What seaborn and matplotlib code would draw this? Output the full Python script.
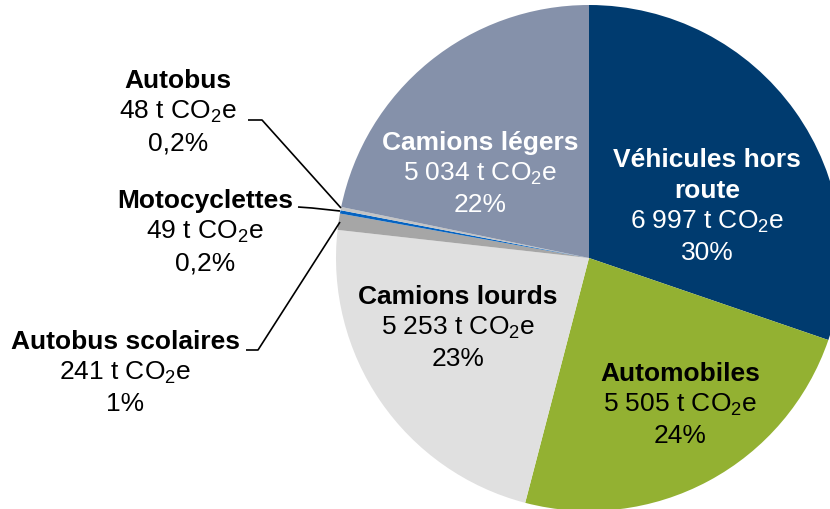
import matplotlib
matplotlib.use("Agg")
import matplotlib.pyplot as plt
import seaborn as sns

categories = ["Véhicules hors route", "Automobiles", "Camions lourds",
              "Autobus scolaires", "Motocyclettes", "Autobus", "Camions légers"]
values = [6997, 5505, 5253, 241, 49, 48, 5034]
value_labels = ["6 997", "5 505", "5 253", "241", "49", "48", "5 034"]
pct_labels = ["30%", "24%", "23%", "1%", "0,2%", "0,2%", "22%"]
title_labels = ["Véhicules hors\nroute", "Automobiles", "Camions lourds",
                "Autobus scolaires", "Motocyclettes", "Autobus", "Camions légers"]
colors = ["#003b6f", "#93b132", "#e0e0e0", "#a6a6a6", "#0563c1", "#c4c4c4", "#8591aa"]
text_colors = ["white", "black", "black", "black", "black", "black", "white"]

sns.set_theme(style="white")
plt.rcParams["font.family"] = ["Liberation Sans", "DejaVu Sans"]
plt.rcParams["mathtext.default"] = "regular"

W, H = 830, 510
fig = plt.figure(figsize=(W / 100, H / 100), dpi=100)
ax = fig.add_axes([0, 0, 1, 1])

ax.pie(values, colors=sns.color_palette(colors), startangle=90, counterclock=False,
       center=(589, H - 259), radius=253, wedgeprops=dict(linewidth=0))
ax.set_xlim(0, W)
ax.set_ylim(0, H)
ax.set_aspect("equal")
ax.axis("off")

FS = 19
LS = 31

# label anchor (x center, y of first line) in pixel coordinates (from top)
anchors = {
    "Véhicules hors route": (707, 160),
    "Automobiles": (680, 374),
    "Camions lourds": (458, 297),
    "Autobus scolaires": (125, 342),
    "Motocyclettes": (205, 201),
    "Autobus": (178, 81),
    "Camions légers": (480, 143),
}

for cat, val, pct, ttl, tc in zip(categories, value_labels, pct_labels, title_labels, text_colors):
    x, y = anchors[cat]
    lines = ttl.split("\n")
    for i, ln in enumerate(lines):
        ax.text(x, H - (y + i * LS), ln, ha="center", va="center", fontsize=FS,
                fontweight="bold", color=tc)
    n = len(lines)
    ax.text(x, H - (y + n * LS), val + r" t CO$_2$e", ha="center", va="center",
            fontsize=FS, color=tc)
    ax.text(x, H - (y + (n + 1) * LS), pct, ha="center", va="center",
            fontsize=FS, color=tc)

# leader lines
leaders = [
    [(248, 121), (262, 121), (341, 209)],
    [(298, 208), (312, 209), (340, 212)],
    [(246, 351), (258, 351), (340, 223)],
]
for pts in leaders:
    xs = [p[0] for p in pts]
    ys = [H - p[1] for p in pts]
    ax.plot(xs, ys, color="black", linewidth=1.2, solid_capstyle="butt")

fig.savefig("out.png", dpi=100)
